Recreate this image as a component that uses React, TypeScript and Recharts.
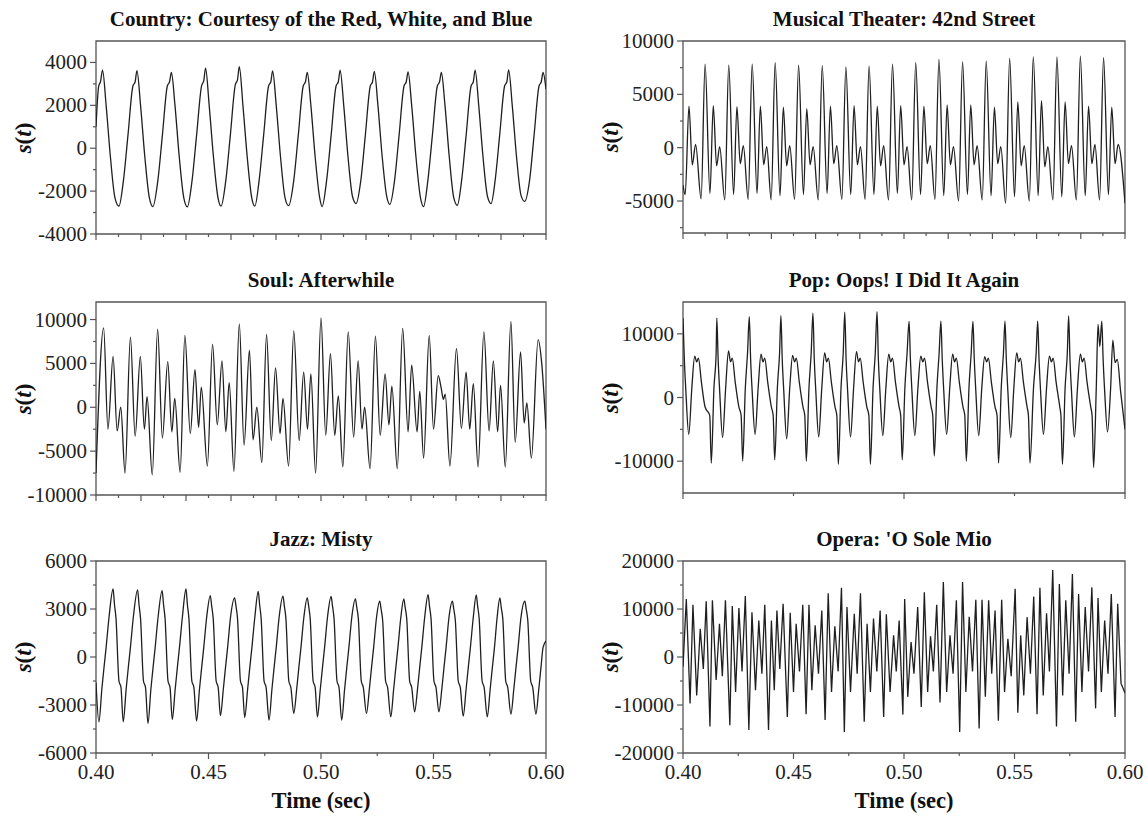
import React from 'react';
import { LineChart, Line, XAxis, YAxis, ReferenceArea } from 'recharts';

// ---------------- data: [time (ms), s(t)] ----------------
const countryPts: number[][] = [
  [400.0,1000],[401.2,2900],[402.0,3100],[402.9,3640],[404.5,2000],[406.4,-400],[408.4,-2300],[410.2,-2700],
  [412.2,-1500],[414.2,600],[416.4,2900],[417.4,3100],[418.2,3620],[419.8,2000],[421.7,-400],[423.7,-2300],[425.3,-2720],
  [427.5,-1500],[429.5,600],[431.7,2900],[432.7,3100],[433.5,3530],[435.1,2000],[437.0,-400],[439.0,-2300],[440.6,-2730],
  [442.7,-1500],[444.7,600],[446.9,2900],[447.9,3150],[448.7,3730],[450.3,2000],[452.2,-400],[454.2,-2300],[455.6,-2700],
  [457.7,-1500],[459.7,600],[461.9,2950],[462.9,3200],[463.7,3800],[465.3,2000],[467.2,-400],[469.2,-2300],[470.6,-2700],
  [472.5,-1500],[474.5,600],[476.7,2900],[477.7,3100],[478.5,3600],[480.1,2000],[482.0,-400],[484.0,-2300],[485.6,-2680],
  [487.9,-1500],[489.9,600],[492.1,2900],[493.1,3100],[493.9,3530],[495.5,2000],[497.4,-400],[499.4,-2300],[500.5,-2720],
  [502.5,-1500],[504.5,600],[506.7,2900],[507.7,3100],[508.5,3640],[510.1,2000],[512.0,-400],[514.0,-2250],[515.6,-2580],
  [517.7,-1500],[519.7,600],[521.9,2900],[522.9,3100],[523.7,3580],[525.3,2000],[527.2,-400],[529.2,-2250],[530.6,-2620],
  [532.7,-1500],[534.7,600],[536.9,2900],[537.9,3100],[538.7,3560],[540.3,2000],[542.2,-400],[544.2,-2300],[545.6,-2720],
  [547.5,-1500],[549.5,600],[551.7,2900],[552.7,3100],[553.5,3530],[555.1,2000],[557.0,-400],[559.0,-2300],[560.6,-2660],
  [562.5,-1500],[564.5,600],[566.7,2900],[567.7,3100],[568.5,3640],[570.1,2000],[572.0,-400],[574.0,-2250],[575.6,-2580],
  [577.4,-1500],[579.4,600],[581.6,2900],[582.6,3100],[583.4,3650],[585.0,2000],[586.9,-400],[588.9,-2200],[590.5,-2480],
  [592.7,-1500],[594.7,600],[596.9,2900],[597.9,3100],[598.7,3530],[600.0,2750],
];

const theaterPts: number[][] = [
  [400.0,-3500],[401.0,-4400],[402.7,3900],[404.2,-1600],[405.7,300],[408.2,-4800],
  [410.0,7830],[412.2,-4300],[413.7,3950],[415.2,-1700],[416.6,100],[418.9,-4900],
  [420.7,7740],[422.9,-4400],[424.4,3850],[425.9,-1500],[427.3,200],[429.5,-4850],
  [431.3,7830],[433.5,-4300],[435.0,3900],[436.5,-1600],[437.9,100],[439.9,-4900],
  [441.7,7960],[443.9,-4500],[445.4,3800],[446.9,-1700],[448.3,200],[450.5,-4850],
  [452.3,7740],[454.5,-4400],[456.0,3650],[457.5,-1600],[458.9,100],[461.2,-4900],
  [463.0,7700],[465.2,-4300],[466.7,3900],[468.2,-1500],[469.6,200],[471.9,-4850],
  [473.7,7580],[475.9,-4400],[477.4,3950],[478.9,-1600],[480.3,100],[482.4,-4850],
  [484.2,7650],[486.4,-4400],[487.9,3900],[489.4,-1700],[490.8,200],[493.0,-4900],
  [494.8,7830],[497.0,-4300],[498.5,3950],[500.0,-1600],[501.4,100],[503.5,-4900],
  [505.3,7960],[507.5,-4400],[509.0,3900],[510.5,-1500],[511.9,200],[514.0,-4850],
  [515.8,8270],[518.0,-4500],[519.5,4000],[521.0,-1600],[522.4,100],[524.7,-5000],
  [526.5,8050],[528.7,-4400],[530.2,4000],[531.7,-1600],[533.1,200],[535.4,-4900],
  [537.2,8110],[539.4,-4500],[540.9,3800],[542.4,-1500],[543.8,100],[546.0,-5200],
  [547.8,8370],[550.0,-4600],[551.5,4300],[553.0,-1700],[554.4,200],[556.7,-5000],
  [558.5,8520],[560.7,-4500],[562.2,4400],[563.7,-1800],[565.1,100],[567.4,-4900],
  [569.2,8520],[571.4,-4600],[572.9,4300],[574.4,-1500],[575.8,200],[578.0,-4900],
  [579.8,8590],[582.0,-4500],[583.5,3900],[585.0,-1500],[586.4,300],[588.5,-4900],
  [590.3,8430],[592.5,-4400],[594.0,3800],[595.5,-1500],[596.9,300],[600.0,-5200],
];

const soulPts: number[][] = [
  [400.0,-7500],[403.4,9050],[405.3,-2500],[407.6,5800],[409.4,-2700],[411.0,0],[412.9,-7500],
  [415.3,8000],[417.4,-3300],[419.7,5800],[421.5,-2500],[422.7,1200],[425.0,-7700],
  [427.4,8900],[429.5,-3500],[431.9,5200],[433.7,-2800],[435.0,1000],[437.4,-7400],
  [439.5,8200],[441.9,-3000],[444.0,4300],[445.6,-2300],[446.8,2300],[449.5,-6700],
  [451.8,7200],[453.9,-2000],[456.0,5300],[457.7,-2800],[459.2,2800],[461.3,-7300],
  [463.7,9500],[465.8,-4300],[468.2,6500],[469.8,-3700],[471.5,0],[473.7,-6300],
  [475.8,8300],[477.9,-3800],[479.8,4500],[481.8,-3000],[483.1,1000],[485.6,-6700],
  [487.9,8700],[490.3,-3800],[492.3,4000],[494.0,-2500],[495.5,3800],[497.6,-7500],
  [500.0,10200],[502.1,-3200],[504.2,6100],[506.1,-3200],[507.7,1300],[509.7,-6800],
  [512.1,8600],[514.5,-3400],[516.5,5300],[518.2,-2500],[519.4,0],[521.8,-7000],
  [524.2,8100],[526.3,-3200],[528.5,3800],[530.2,-2000],[531.5,2400],[533.9,-7000],
  [536.3,9000],[538.7,-2800],[540.3,4800],[542.7,-2800],[543.9,1800],[545.6,-5800],
  [548.1,8200],[550.0,-2500],[552.1,3600],[553.4,2200],[554.4,900],[555.2,1500],[557.3,-6700],
  [560.2,6700],[562.4,-2400],[564.5,4000],[566.1,-2500],[567.7,2700],[569.8,-6800],
  [572.4,8600],[574.7,-2700],[576.6,5300],[578.5,-2800],[579.8,2500],[581.9,-6800],
  [584.4,9800],[586.3,-4000],[588.7,6300],[590.3,-1800],[591.5,500],[593.5,-5800],
  [596.5,7700],[598.1,5000],[600.0,-2500],
];

const popPts: number[][] = [
  [400.0,12500],[400.6,6000],[401.3,1000],[402.6,-5800],[404.0,1500],[405.3,6500],[406.2,5600],[407.0,6200],[408.3,2500],[410.0,-1500],[412.1,-2800],[412.8,-10300],[414.0,1500],[415.0,7000],
  [415.3,12480],[415.9,6000],[416.6,1000],[417.9,-6300],[419.3,1500],[420.6,7300],[421.5,5600],[422.3,6200],[423.6,2500],[425.3,-1500],[426.3,-2800],[427.0,-10000],[428.2,1500],[429.2,7000],
  [430.0,12700],[430.6,6000],[431.3,1000],[432.6,-5800],[434.0,1500],[435.3,6800],[436.2,5600],[437.0,6200],[438.3,2500],[440.0,-1500],[440.8,-2800],[441.5,-9800],[442.7,1500],[443.7,7000],
  [444.3,12850],[444.9,6000],[445.6,1000],[446.9,-6500],[448.3,1500],[449.6,6600],[450.5,5600],[451.3,6200],[452.6,2500],[454.3,-1500],[455.1,-2800],[455.8,-10000],[457.0,1500],[458.0,7000],
  [458.8,13260],[459.4,6000],[460.1,1000],[461.4,-6200],[462.8,1500],[464.1,7000],[465.0,5600],[465.8,6200],[467.1,2500],[468.8,-1500],[469.6,-2800],[470.3,-10500],[471.5,1500],[472.5,7000],
  [473.2,13400],[473.8,6000],[474.5,1000],[475.8,-6200],[477.2,1500],[478.5,7200],[479.4,5600],[480.2,6200],[481.5,2500],[483.2,-1500],[484.1,-2800],[484.8,-10500],[486.0,1500],[487.0,7000],
  [487.8,13500],[488.4,6000],[489.1,1000],[490.4,-6000],[491.8,1500],[493.1,6800],[494.0,5600],[494.8,6200],[496.1,2500],[497.8,-1500],[498.5,-2800],[499.2,-9800],[500.4,1500],[501.4,7000],
  [502.3,11960],[502.9,6000],[503.6,1000],[504.9,-6000],[506.3,1500],[507.6,6500],[508.5,5600],[509.3,6200],[510.6,2500],[512.3,-1500],[513.0,-2800],[513.7,-9200],[514.9,1500],[515.9,7000],
  [516.7,12000],[517.3,6000],[518.0,1000],[519.3,-5800],[520.7,1500],[522.0,6800],[522.9,5600],[523.7,6200],[525.0,2500],[526.7,-1500],[527.5,-2800],[528.2,-10000],[529.4,1500],[530.4,7000],
  [531.2,11950],[531.8,6000],[532.5,1000],[533.8,-6000],[535.2,1500],[536.5,6400],[537.4,5600],[538.2,6200],[539.5,2500],[541.2,-1500],[542.1,-2800],[542.8,-10300],[544.0,1500],[545.0,7000],
  [545.7,12000],[546.3,6000],[547.0,1000],[548.3,-6300],[549.7,1500],[551.0,7000],[551.9,5600],[552.7,6200],[554.0,2500],[555.7,-1500],[556.3,-2800],[557.0,-10300],[558.6,1500],[559.8,7000],
  [560.5,12000],[561.1,6000],[561.8,1000],[563.1,-5800],[564.5,1500],[565.8,6500],[566.7,5600],[567.5,6200],[568.8,2500],[570.5,-1500],[571.0,-2800],[571.7,-10500],[572.9,1500],[573.9,7000],
  [574.5,12800],[575.1,6000],[575.8,1000],[577.1,-6200],[578.5,1500],[579.8,6800],[580.7,5600],[581.5,6200],[582.8,2500],[584.5,-1500],[585.1,-2800],[585.8,-11000],[587.0,1500],[587.8,11500],[588.6,8000],
  [589.5,12000],[590.1,6000],[590.8,1000],[592.1,-5400],[593.5,1500],[594.5,9000],[595.5,5500],[596.5,6000],[598.0,1000],[600.0,-5000],
];

const jazzPts: number[][] = [
  [400.0,-1600],[401.3,-4050],[402.6,-2000],[403.6,-600],[404.5,600],[405.8,2500],[407.6,4250],[408.2,3300],[408.9,2400],[410.2,-1500],[411.1,-1900],
  [412.1,-4050],[413.4,-2000],[414.4,-600],[415.3,600],[416.6,2500],[418.5,4200],[419.1,3300],[419.8,2400],[421.1,-1500],[422.0,-1900],
  [423.1,-4150],[424.4,-2000],[425.4,-600],[426.3,600],[427.6,2500],[429.4,4150],[430.0,3300],[430.7,2400],[432.0,-1500],[432.9,-1900],
  [433.9,-3900],[435.2,-2000],[436.2,-600],[437.1,600],[438.4,2500],[440.0,4250],[440.6,3300],[441.3,2400],[442.6,-1500],[443.5,-1900],
  [444.7,-4000],[446.0,-2000],[447.0,-600],[447.9,600],[449.2,2500],[450.8,3840],[451.4,3200],[452.1,2400],[453.4,-1500],[454.3,-1900],
  [455.3,-3670],[456.6,-2000],[457.6,-600],[458.5,600],[459.8,2500],[461.6,3700],[462.2,3200],[462.9,2400],[464.2,-1500],[465.1,-1900],
  [466.1,-3780],[467.4,-2000],[468.4,-600],[469.3,600],[470.6,2500],[472.1,4100],[472.7,3300],[473.4,2400],[474.7,-1500],[475.6,-1900],
  [476.9,-3940],[478.2,-2000],[479.2,-600],[480.1,600],[481.4,2500],[483.1,3800],[483.7,3200],[484.4,2400],[485.7,-1500],[486.6,-1900],
  [487.9,-3530],[489.2,-2000],[490.2,-600],[491.1,600],[492.4,2500],[493.9,3700],[494.5,3200],[495.2,2400],[496.5,-1500],[497.4,-1900],
  [498.4,-3740],[499.7,-2000],[500.7,-600],[501.6,600],[502.9,2500],[504.5,3780],[505.1,3200],[505.8,2400],[507.1,-1500],[508.0,-1900],
  [509.2,-3940],[510.5,-2000],[511.5,-600],[512.4,600],[513.7,2500],[515.3,3630],[515.9,3100],[516.6,2400],[517.9,-1500],[518.8,-1900],
  [520.2,-3530],[521.5,-2000],[522.5,-600],[523.4,600],[524.7,2500],[526.1,3490],[526.7,3000],[527.4,2300],[528.7,-1500],[529.6,-1900],
  [531.0,-3740],[532.3,-2000],[533.3,-600],[534.2,600],[535.5,2500],[536.8,3630],[537.4,3100],[538.1,2400],[539.4,-1500],[540.3,-1900],
  [541.6,-3430],[542.9,-2000],[543.9,-600],[544.8,600],[546.1,2500],[547.6,3900],[548.2,3200],[548.9,2400],[550.2,-1500],[551.1,-1900],
  [552.4,-3430],[553.7,-2000],[554.7,-600],[555.6,600],[556.9,2500],[558.4,3490],[559.0,3000],[559.7,2300],[561.0,-1500],[561.9,-1900],
  [563.2,-3700],[564.5,-2000],[565.5,-600],[566.4,600],[567.7,2500],[569.0,3880],[569.6,3200],[570.3,2400],[571.6,-1500],[572.5,-1900],
  [573.9,-3740],[575.2,-2000],[576.2,-600],[577.1,600],[578.3,2500],[579.5,3700],[580.1,3100],[580.8,2400],[582.1,-1500],[583.0,-1900],
  [584.4,-3570],[585.7,-2000],[586.7,-600],[587.6,600],[588.9,2500],[590.6,3490],[591.2,3000],[591.9,2300],[593.2,-1500],[594.1,-1900],
  [595.5,-3570],[596.8,-2000],[597.8,-600],[598.7,600],[600.0,1000],
];

const operaPts: number[][] = [
  [400.0,-2000],[401.5,12100],[403.2,-9700],[404.5,10900],[406.2,-8000],[407.8,5900],[409.2,-2500],[410.5,11600],
  [412.2,-14500],[413.3,11800],[415.0,-4800],[416.5,6900],[417.8,-4000],[419.2,11800],[421.2,-14200],[422.3,10600],
  [423.8,-7300],[425.3,10200],[426.7,-3000],[428.2,12700],[429.8,-15200],[431.2,9300],[432.8,-6900],[434.3,7600],
  [435.7,-3500],[437.0,10900],[438.7,-15200],[440.0,7600],[441.3,-6900],[442.5,9700],[443.8,-2500],[445.3,11100],
  [447.2,-12500],[448.5,9200],[450.0,-7300],[451.2,6900],[452.7,-3000],[454.2,10900],[455.7,-11900],[457.0,10900],
  [458.3,-6900],[459.8,6600],[461.3,-3500],[462.8,9700],[464.3,-13100],[465.7,13300],[467.2,-7300],[468.7,6400],
  [470.2,-3000],[471.7,14400],[473.0,-15600],[474.2,10400],[475.8,-7300],[477.5,9000],[478.8,-3500],[480.3,13300],
  [482.0,-13500],[483.3,6900],[484.8,-7300],[486.2,8000],[487.7,-3000],[489.2,9700],[490.8,-12500],[492.0,8900],
  [493.7,-7300],[495.3,4500],[496.5,-3000],[497.8,7600],[499.5,-12000],[500.3,12100],[501.7,-8300],[503.2,3100],
  [504.5,-3500],[506.2,10400],[507.8,-10400],[509.2,13500],[510.7,-7300],[512.0,4300],[513.3,-3000],[514.8,10900],
  [516.3,-9500],[517.8,15600],[519.3,-7300],[520.8,4500],[522.2,-3500],[523.7,11800],[525.2,-15600],[526.5,15600],
  [528.0,-7300],[529.5,8400],[531.0,-3000],[532.5,11900],[534.0,-14900],[535.3,11900],[536.8,-8300],[538.3,11800],
  [539.7,-3500],[541.2,9700],[542.7,-13300],[544.2,11900],[545.5,-7300],[547.0,3800],[548.5,-4000],[550.3,14200],
  [551.5,-11600],[552.8,4500],[554.2,-8000],[555.7,8300],[557.2,-3500],[558.7,12600],[560.2,-11900],[561.5,14400],
  [563.0,-8000],[564.5,9100],[565.8,-3000],[567.3,18100],[569.0,-14500],[570.3,15200],[571.8,-8000],[573.2,11800],
  [574.7,-3500],[576.2,17300],[577.7,-13500],[579.0,13100],[580.5,-7300],[582.0,10400],[583.5,-3000],[585.0,14500],
  [586.7,-10700],[587.8,12300],[589.3,-7300],[590.8,7600],[592.3,-3500],[593.8,13100],[595.5,-12500],[596.7,11100],
  [598.2,-5500],[600.0,-7500],
];

// ---------------- tick values (ms on x) ----------------
const xTicksFine = [400,410,420,430,440,450,460,470,480,490,500,510,520,530,540,550,560,570,580,590,600];
const xMajorFine = [400,420,440,460,480,500,520,540,560,580,600];
const xTicksPop = [400,450,500,550,600];
const xMajorPop = [400,500,600];
const xTicksStd = [400,425,450,475,500,525,550,575,600];
const xMajorStd = [400,450,500,550,600];

const countryYTicks = [-4000,-3000,-2000,-1000,0,1000,2000,3000,4000];
const countryYMajor = [-4000,-2000,0,2000,4000];
const theaterYTicks = [-7500,-5000,-2500,0,2500,5000,7500,10000];
const theaterYMajor = [-5000,0,5000,10000];
const soulYTicks = [-10000,-7500,-5000,-2500,0,2500,5000,7500,10000];
const soulYMajor = [-10000,-5000,0,5000,10000];
const popYTicks = [-10000,-5000,0,5000,10000];
const popYMajor = [-10000,0,10000];
const jazzYTicks = [-6000,-4500,-3000,-1500,0,1500,3000,4500,6000];
const jazzYMajor = [-6000,-3000,0,3000,6000];
const operaYTicks = [-20000,-15000,-10000,-5000,0,5000,10000,15000,20000];
const operaYMajor = [-20000,-10000,0,10000,20000];

const FONT = '"Liberation Serif", "Times New Roman", Times, serif';
const YW = 90;
const MT = 14;
const MR = 26;
const AX = '#555';
const TICK_FS = 21;

type Panel = {
  title: string;
  pts: number[][];
  left: number; top: number; w: number; h: number;
  yDomain: [number, number];
  yTicks: number[]; yMajor: number[];
  xTicks: number[]; xMajor: number[];
  xLabels: boolean;
  curve: 'monotone' | 'linear';
};

const panels: Panel[] = [
  { title: 'Country: Courtesy of the Red, White, and Blue', pts: countryPts, left: 96, top: 41, w: 450, h: 193,
    yDomain: [-4000, 5000], yTicks: countryYTicks, yMajor: countryYMajor, xTicks: xTicksFine, xMajor: xMajorFine, xLabels: false, curve: 'monotone' },
  { title: 'Musical Theater: 42nd Street', pts: theaterPts, left: 683, top: 41, w: 442, h: 192,
    yDomain: [-8000, 10000], yTicks: theaterYTicks, yMajor: theaterYMajor, xTicks: xTicksFine, xMajor: xMajorFine, xLabels: false, curve: 'monotone' },
  { title: 'Soul: Afterwhile', pts: soulPts, left: 96, top: 302, w: 450, h: 193,
    yDomain: [-10000, 12000], yTicks: soulYTicks, yMajor: soulYMajor, xTicks: xTicksFine, xMajor: xMajorFine, xLabels: false, curve: 'monotone' },
  { title: 'Pop: Oops! I Did It Again', pts: popPts, left: 683, top: 302, w: 442, h: 191,
    yDomain: [-15000, 15000], yTicks: popYTicks, yMajor: popYMajor, xTicks: xTicksPop, xMajor: xMajorPop, xLabels: false, curve: 'monotone' },
  { title: 'Jazz: Misty', pts: jazzPts, left: 96, top: 561, w: 450, h: 192,
    yDomain: [-6000, 6000], yTicks: jazzYTicks, yMajor: jazzYMajor, xTicks: xTicksStd, xMajor: xMajorStd, xLabels: true, curve: 'monotone' },
  { title: "Opera: 'O Sole Mio", pts: operaPts, left: 683, top: 561, w: 442, h: 192,
    yDomain: [-20000, 20000], yTicks: operaYTicks, yMajor: operaYMajor, xTicks: xTicksStd, xMajor: xMajorStd, xLabels: true, curve: 'linear' },
];

function makeXTick(plotBottom: number, majors: number[], showLabels: boolean) {
  return (props: any) => {
    const { x, payload } = props;
    const v = payload.value;
    const major = majors.includes(v);
    return (
      <g>
        <line x1={x} x2={x} y1={plotBottom} y2={plotBottom + (major ? 6 : 3)} stroke={AX} strokeWidth={1.2} />
        {showLabels && major ? (
          <text x={x} y={plotBottom + 26} textAnchor="middle" fontFamily={FONT} fontSize={TICK_FS} fill="#222">
            {(v / 1000).toFixed(2)}
          </text>
        ) : null}
      </g>
    );
  };
}

function makeYTick(majors: number[]) {
  return (props: any) => {
    const { y, payload } = props;
    const v = payload.value;
    const major = majors.includes(v);
    return (
      <g>
        <line x1={YW - (major ? 6 : 3)} x2={YW} y1={y} y2={y} stroke={AX} strokeWidth={1.2} />
        {major ? (
          <text x={YW - 9} y={y + 7} textAnchor="end" fontFamily={FONT} fontSize={TICK_FS} fill="#222">
            {String(v)}
          </text>
        ) : null}
      </g>
    );
  };
}

function PanelChart({ p }: { p: Panel }) {
  const xh = p.xLabels ? 40 : 12;
  const data = p.pts.map(([t, v]) => ({ t, v }));
  const plotBottom = MT + p.h;
  return (
    <>
      <div style={{ position: 'absolute', left: p.left - 40, width: p.w + 80, top: p.top - 35, textAlign: 'center',
        fontFamily: FONT, fontWeight: 'bold', fontSize: 21, lineHeight: '26px', color: '#111', whiteSpace: 'nowrap' }}>
        {p.title}
      </div>
      <div style={{ position: 'absolute', left: p.left - 96, top: p.top + p.h / 2 - 13, width: 48, height: 26,
        transform: 'rotate(-90deg)', textAlign: 'center', fontFamily: FONT, fontWeight: 'bold', fontSize: 23,
        lineHeight: '26px', color: '#111' }}>
        <i>s</i>(<i>t</i>)
      </div>
      <div style={{ position: 'absolute', left: p.left - YW, top: p.top - MT }}>
        <LineChart width={YW + p.w + MR} height={MT + p.h + xh} data={data} margin={{ top: MT, right: MR, left: 0, bottom: 0 }}>
          <XAxis dataKey="t" type="number" domain={[400, 600]} ticks={p.xTicks} interval={0} allowDataOverflow
            axisLine={false} tickLine={false} height={xh} tick={makeXTick(plotBottom, p.xMajor, p.xLabels)} />
          <YAxis type="number" domain={p.yDomain} ticks={p.yTicks} interval={0} allowDataOverflow
            axisLine={false} tickLine={false} width={YW} tick={makeYTick(p.yMajor)} />
          <ReferenceArea x1={400} x2={600} y1={p.yDomain[0]} y2={p.yDomain[1]} fill="none" fillOpacity={0}
            stroke={AX} strokeWidth={1.3} strokeOpacity={1} ifOverflow="visible" />
          <Line dataKey="v" type={p.curve} stroke="#1f1f1f" strokeWidth={1.3} dot={false} activeDot={false}
            isAnimationActive={false} />
        </LineChart>
      </div>
      {p.xLabels ? (
        <div style={{ position: 'absolute', left: p.left, width: p.w, top: p.top + p.h + 35, textAlign: 'center',
          fontFamily: FONT, fontWeight: 'bold', fontSize: 22.5, lineHeight: '26px', color: '#111' }}>
          Time (sec)
        </div>
      ) : null}
    </>
  );
}

export default function App() {
  return (
    <div style={{ position: 'absolute', left: 0, top: 0, width: 1148, height: 816, background: '#fff', overflow: 'hidden' }}>
      {panels.map((p) => (
        <PanelChart key={p.title} p={p} />
      ))}
    </div>
  );
}
